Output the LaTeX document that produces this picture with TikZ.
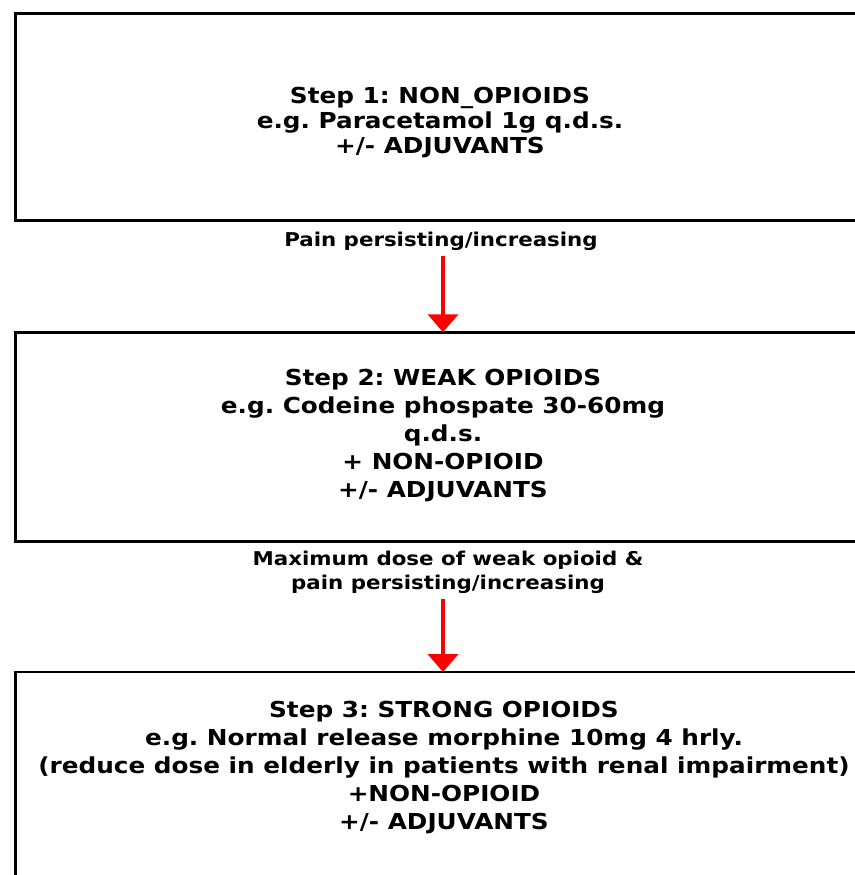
\documentclass[tikz,border=0pt]{standalone}
\usepackage{fontspec}
\setmainfont{DejaVu Sans}[FakeStretch=1.124]
\usetikzlibrary{arrows.meta,positioning}
\frenchspacing

\tikzset{
  stepbox/.style={draw, line width=2.6pt, inner sep=0pt, outer sep=0pt, minimum width=855pt},
  steptext/.style={align=center, font=\fontsize{22}{28}\selectfont\bfseries},
  cond/.style={align=center, font=\fontsize{19}{24}\selectfont\bfseries, inner sep=0pt},
  redarrow/.style={draw=red, line width=4pt, -{Triangle[width=30pt,length=18pt]}, shorten <=6pt}
}

\begin{document}
\begin{tikzpicture}[x=1pt, y=-1pt]
    \useasboundingbox (0,0) rectangle (854,875);

    % the three steps
    \node[stepbox, minimum height=207pt] (box1) at (443,117) {};
    \node[stepbox, minimum height=209.5pt] (box2) at (443,437) {};
    \node[stepbox, minimum height=240pt] (box3) at (443,792) {};

    % text of each step
    \node[steptext, font=\fontsize{22}{25}\selectfont\bfseries] (txt1) at (440,123) {Step 1: NON\_OPIOIDS\\e.g. Paracetamol 1g q.d.s.\\+/- ADJUVANTS};
    \node[steptext] (txt2) at (443,436) {Step 2: WEAK OPIOIDS\\e.g. Codeine phospate 30-60mg\\q.d.s.\\+ NON-OPIOID\\+/- ADJUVANTS};
    \node[steptext] (txt3) at (444,768) {Step 3: STRONG OPIOIDS\\e.g. Normal release morphine 10mg 4 hrly.\\(reduce dose in elderly in patients with renal impairment)\\+NON-OPIOID\\+/- ADJUVANTS};

    % conditions between the steps
    \node[cond] (lab1) at (441,241) {Pain persisting/increasing};
    \node[cond] (lab2) at (448,572) {Maximum dose of weak opioid \&\\pain persisting/increasing};

    % arrows
    \draw[redarrow] (lab1.south -| box1.north) -- (box2.north);
    \draw[redarrow] (lab2.south -| box1.north) -- (box3.north);
\end{tikzpicture}
\end{document}
